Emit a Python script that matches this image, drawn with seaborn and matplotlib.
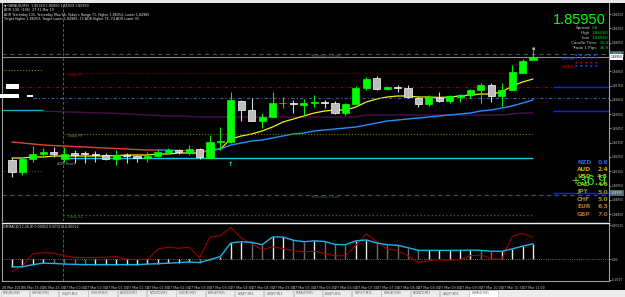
import matplotlib
matplotlib.use("Agg")
import matplotlib.pyplot as plt
import matplotlib.transforms as mtransforms
from matplotlib.patches import Rectangle
import seaborn as sns
import numpy as np
import pandas as pd

# GBPAUD M15, 26-27 Mar 2019
opens = [1.85229, 1.85145, 1.85236, 1.85271, 1.85285, 1.85236, 1.85278, 1.85278, 1.85271, 1.85264,
         1.85236, 1.85264, 1.85257, 1.85243, 1.85257, 1.85285, 1.85299, 1.85278, 1.85306, 1.85243,
         1.85358, 1.85355, 1.85642, 1.85579, 1.85502, 1.85530, 1.85625, 1.85628, 1.85614, 1.85628,
         1.85635, 1.85628, 1.85558, 1.85621, 1.85733, 1.85803, 1.85726, 1.85740, 1.85733, 1.85663,
         1.85621, 1.85663, 1.85642, 1.85670, 1.85684, 1.85719, 1.85754, 1.85677, 1.85719, 1.85838,
         1.85929]
highs = [1.85243, 1.85250, 1.85327, 1.85313, 1.85320, 1.85320, 1.85299, 1.85292, 1.85292, 1.85278,
         1.85299, 1.85278, 1.85264, 1.85285, 1.85299, 1.85313, 1.85306, 1.85334, 1.85313, 1.85404,
         1.85460, 1.85705, 1.85649, 1.85663, 1.85558, 1.85705, 1.85670, 1.85649, 1.85656, 1.85684,
         1.85649, 1.85642, 1.85628, 1.85747, 1.85810, 1.85817, 1.85747, 1.85754, 1.85754, 1.85670,
         1.85684, 1.85705, 1.85684, 1.85691, 1.85726, 1.85768, 1.85768, 1.85768, 1.85894, 1.85936,
         1.86000]
lows = [1.85110, 1.85124, 1.85215, 1.85250, 1.85250, 1.85215, 1.85208, 1.85208, 1.85215, 1.85229,
        1.85194, 1.85208, 1.85215, 1.85215, 1.85250, 1.85278, 1.85271, 1.85264, 1.85236, 1.85243,
        1.85299, 1.85348, 1.85502, 1.85502, 1.85453, 1.85530, 1.85593, 1.85558, 1.85544, 1.85600,
        1.85593, 1.85551, 1.85544, 1.85621, 1.85719, 1.85719, 1.85719, 1.85705, 1.85663, 1.85600,
        1.85607, 1.85635, 1.85628, 1.85635, 1.85663, 1.85628, 1.85635, 1.85607, 1.85719, 1.85838,
        1.85929]
closes = [1.85145, 1.85236, 1.85271, 1.85285, 1.85271, 1.85271, 1.85264, 1.85271, 1.85264, 1.85236,
          1.85264, 1.85257, 1.85243, 1.85257, 1.85285, 1.85299, 1.85285, 1.85306, 1.85250, 1.85355,
          1.85362, 1.85649, 1.85579, 1.85502, 1.85530, 1.85628, 1.85628, 1.85621, 1.85628, 1.85635,
          1.85628, 1.85558, 1.85621, 1.85733, 1.85796, 1.85726, 1.85740, 1.85733, 1.85670, 1.85621,
          1.85670, 1.85642, 1.85677, 1.85684, 1.85719, 1.85754, 1.85677, 1.85719, 1.85845, 1.85922,
          1.85950]

ma_fast = [1.85243, 1.85243, 1.85250, 1.85250, 1.85257, 1.85257, 1.85257, 1.85257, 1.85257, 1.85257,
           1.85260, 1.85264, 1.85264, 1.85264, 1.85271, 1.85271, 1.85278, 1.85278, 1.85278, 1.85299,
           1.85306, 1.85376, 1.85397, 1.85411, 1.85432, 1.85460, 1.85495, 1.85516, 1.85537, 1.85558,
           1.85572, 1.85579, 1.85579, 1.85600, 1.85635, 1.85656, 1.85670, 1.85677, 1.85677, 1.85670,
           1.85670, 1.85667, 1.85670, 1.85677, 1.85684, 1.85691, 1.85691, 1.85705, 1.85747, 1.85775,
           1.85796]
ma_slow = [1.85355, 1.85348, 1.85341, 1.85334, 1.85330, 1.85327, 1.85323, 1.85320, 1.85316, 1.85313,
           1.85309, 1.85306, 1.85302, 1.85299, 1.85299, 1.85299, 1.85295, 1.85295, 1.85292, 1.85292,
           1.85306, 1.85334, 1.85348, 1.85362, 1.85369, 1.85383, 1.85397, 1.85411, 1.85418, 1.85432,
           1.85439, 1.85446, 1.85453, 1.85460, 1.85474, 1.85488, 1.85502, 1.85509, 1.85516, 1.85523,
           1.85530, 1.85537, 1.85544, 1.85551, 1.85558, 1.85572, 1.85579, 1.85593, 1.85607, 1.85628,
           1.85649]
# purple line starts at bar 3
purple_line = [1.85572, 1.85569, 1.85565, 1.85565, 1.85562, 1.85558, 1.85558, 1.85555, 1.85551, 1.85548,
               1.85544, 1.85541, 1.85537, 1.85537, 1.85534, 1.85530, 1.85530, 1.85530, 1.85530, 1.85530,
               1.85530, 1.85530, 1.85530, 1.85530, 1.85530, 1.85530, 1.85530, 1.85530, 1.85530, 1.85530,
               1.85530, 1.85544, 1.85544, 1.85544, 1.85544, 1.85544, 1.85544, 1.85544, 1.85544, 1.85544,
               1.85544, 1.85544, 1.85544, 1.85544, 1.85544, 1.85551, 1.85558, 1.85558]

macd_main = [-0.00026, -0.00025, -0.00018, -0.00013, -0.00014, -0.00016, -0.00017, -0.00018, -0.00018, -0.00018,
             -0.00018, -0.00018, -0.00018, -0.00016, -0.00015, -0.00013, -0.00011, -0.00009, -0.00011, -0.00001,
             0.00009, 0.00055, 0.00059, 0.00057, 0.00049, 0.00075, 0.00075, 0.00064, 0.00059, 0.00062,
             0.00060, 0.00050, 0.00049, 0.00062, 0.00065, 0.00055, 0.00049, 0.00047, 0.00039, 0.00030,
             0.00030, 0.00030, 0.00030, 0.00030, 0.00031, 0.00030, 0.00027, 0.00027, 0.00035, 0.00044,
             0.00052]
macd_signal = [-0.00041, -0.00023, 0.00019, 0.00022, 0.00021, 0.00012, 0.00006, 0.00006, 0.00006, 0.00007,
               0.00009, 0.00001, -0.00001, 0.00000, 0.00034, 0.00041, 0.00037, 0.00041, 0.00005, 0.00075,
               0.00079, 0.00107, 0.00072, 0.00052, 0.00032, 0.00042, 0.00036, 0.00029, 0.00025, 0.00027,
               0.00019, 0.00012, 0.00012, 0.00047, 0.00085, 0.00059, 0.00035, 0.00029, 0.00012, -0.00011,
               -0.00005, -0.00001, -0.00003, -0.00001, 0.00012, 0.00015, 0.00002, 0.00000, 0.00077, 0.00087,
               0.00074]

# price levels
yest_high = 1.85971
bid = 1.85950
daily_r1 = 1.85838
daily_pp = 1.85411
daily_s1 = 1.84844
yest_low = 1.84984
adr_start = 1.85243
red_level = 1.85740
blue_dash_level = 1.85663
blue_right_levels = [1.85740, 1.85572, 1.84998]
left_olive = 1.85859
left_cyan = 1.85579
left_green = 1.85152

price_ticks = [1.8625, 1.8615, 1.8605, 1.8595, 1.8585, 1.8575, 1.8565, 1.8555,
               1.8545, 1.8535, 1.8525, 1.8515, 1.8505, 1.8495, 1.8485]

time_labels = ["26 Mar 2019", "26 Mar 23:00", "26 Mar 23:30", "27 Mar 00:00", "27 Mar 00:30",
               "27 Mar 01:00", "27 Mar 01:30", "27 Mar 02:00", "27 Mar 02:30", "27 Mar 03:00",
               "27 Mar 03:30", "27 Mar 04:00", "27 Mar 04:30", "27 Mar 05:00", "27 Mar 05:30",
               "27 Mar 06:00", "27 Mar 06:30", "27 Mar 07:00", "27 Mar 07:30", "27 Mar 08:00",
               "27 Mar 08:30", "27 Mar 09:00", "27 Mar 09:30", "27 Mar 10:00", "27 Mar 10:30",
               "27 Mar 11:00"]

info_labels = ["Spread", "High", "Low", "Candle Time", "Trade 1 Pips"]
info_values = ["0.6", "1.86000", "1.84960", "01:47", "36.9"]

currencies = ["NZD", "AUD", "USD", "CAD", "JPY", "CHF", "EUR", "GBP"]
strengths = [0.6, 2.4, 4.3, 4.6, 5.0, 5.0, 6.3, 7.0]
cur_colors = ["#2f62d8", "#d4a400", "#c8b400", "#b8ac20", "#8e8e3a", "#9a8a3c", "#b07a2c", "#a86a34"]

tabs = ["EURUSD,M15", "GBPUSD,M15", "USDJPY,M15", "USDCHF,M15", "AUDUSD,M15", "NZDUSD,M15",
        "USDCAD,M15", "EURGBP,M15", "EURJPY,M15", "GBPJPY,M15", "EURAUD,M15", "AUDJPY,M15",
        "GBPCHF,M15", "EURCAD,M15", "AUDNZD,M15", "CADJPY,M15", "GBPAUD,M15"]

sns.set_style("dark", {"axes.facecolor": "black", "figure.facecolor": "black"})
plt.rcParams['font.family'] = ['DejaVu Sans']

W, H = 625, 297
fig = plt.figure(figsize=(W / 100, H / 100), dpi=100, facecolor='black')


def box(l, t, r, b):
    return [l / W, 1 - b / H, (r - l) / W, (b - t) / H]


ax = fig.add_axes(box(2, 3, 609, 221))
pane = fig.add_axes(box(2, 223, 609, 281))
ov = fig.add_axes([0, 0, 1, 1], zorder=5)
ov.set_xlim(0, W)
ov.set_ylim(H, 0)
ov.axis('off')

STEP = 10.42
xlim = ((2 - 12) / STEP, (609 - 12) / STEP)
K = 0.00007
for a in (ax, pane):
    a.set_facecolor('black')
    a.grid(False)
    a.set_xlim(*xlim)
ax.set_ylim(1.8595 - (221 - 57) * K, 1.8595 + (57 - 3) * K)
pane.set_ylim(-0.00073, 0.00122)

# candles
df = pd.DataFrame({'i': np.arange(len(opens)), 'o': opens, 'h': highs, 'l': lows, 'c': closes})
df['up'] = df.c >= df.o
ax.vlines(df.i, df.l, df.h, colors=np.where(df.up, '#00ee00', '#d8d8d8'), lw=0.8, zorder=3)
bottoms = df[['o', 'c']].min(axis=1)
heights = (df.c - df.o).abs().clip(lower=0.000025)
ax.bar(df.i, heights, bottom=bottoms, width=0.68,
       color=np.where(df.up, '#00ff00', '#bdbdbd'),
       edgecolor=np.where(df.up, '#00ff00', '#ffffff'), linewidth=0.5, zorder=4)

# moving averages
sns.lineplot(x=df.i, y=ma_fast, ax=ax, color='#f2f200', lw=0.9, zorder=2, legend=False)
for s, e, col in [(0, 14, '#e0452b'), (14, 16, '#1e90ff'), (16, 19, '#b23020'), (19, 50, '#1e90ff')]:
    sns.lineplot(x=df.i[s:e + 1], y=ma_slow[s:e + 1], ax=ax, color=col, lw=1.0, zorder=2, legend=False)
sns.lineplot(x=np.arange(3, 3 + len(purple_line)), y=purple_line, ax=ax, color='#4a0f4a', lw=1.0,
             zorder=1, legend=False)

# levels
dash = (0, (4, 3))
dashdot = (0, (3, 2, 1, 2))
ax.axhline(yest_high, color='#3a5656', lw=0.8, ls=dash, zorder=1)
ax.axhline(bid, color='#8c8c8c', lw=0.8, zorder=1)
ax.axhline(yest_low, color='#3a5656', lw=0.8, ls=dash, zorder=1)
ax.hlines(left_olive, -1, 3, color='#8a8a00', lw=0.8, ls=':')
ax.hlines(left_cyan, -1, 3, color='#1aa8d8', lw=1.0)
ax.hlines(left_green, -1, 3, color='#1e5a1e', lw=0.8, ls=':')
ax.hlines(daily_r1, 4.9, 50, color='#7a0000', lw=0.8, ls=':')
ax.hlines(daily_pp, 4.9, 50, color='#7a7a00', lw=0.8, ls=':')
ax.hlines(daily_s1, 4.9, 50, color='#1e6a1e', lw=1.0, ls=':')
ax.hlines(adr_start, 4.9, 50, color='#10c8e0', lw=1.0, zorder=1)
ax.hlines(red_level, xlim[0], 51.9, color='#8b0000', lw=0.8, ls=dashdot)
ax.hlines(blue_dash_level, 2.0, xlim[1], color='#3a5bb0', lw=0.8, ls=dashdot)
ax.hlines(blue_right_levels, 51.9, xlim[1], color='#1a1aff', lw=1.0)
ax.axvline(4.9, color='#5a5a5a', lw=0.7, ls=(0, (3, 2)))
pane.axvline(4.9, color='#5a5a5a', lw=0.7, ls=(0, (3, 2)))

# level texts
ax.text(5.4, daily_r1 - 0.00002, "Daily R1", color='#c00000', fontsize=2.6, va='top')
ax.text(5.4, daily_pp - 0.00002, "Daily PP", color='#8a8a60', fontsize=2.6, va='top')
ax.text(5.4, daily_s1 - 0.00001, "Daily S1", color='#2a8a2a', fontsize=2.6, va='top')
ax.text(4.3, adr_start - 0.00045, "ADR Start", color='#8a9aa8', fontsize=2.6, va='center')
ax.text(30, yest_high - 0.00001, "Yesterday's High", color='#4a6060', fontsize=2.6, va='top', ha='center')
ax.text(30, yest_low - 0.00001, "Yesterday's Low", color='#4a6060', fontsize=2.6, va='top', ha='center')
ax.text(21, adr_start - 0.00049, "\u2191", color='#00e5ff', fontsize=4.5, ha='center', va='center',
        fontweight='bold')
ax.text(45.7, blue_dash_level, "\u2022", color='#a0e0a0', fontsize=3, ha='center', va='center')
ax.text(50, 1.86012, "\u25aa", color='#c0c0c0', fontsize=3.5, ha='center', va='center')

# right price axis
ax.yaxis.tick_right()
ax.set_yticks(price_ticks)
ax.set_yticklabels(["%.5f" % p for p in price_ticks])
ax.tick_params(axis='y', colors='#c8c8c8', labelsize=2.1, length=1.2, width=0.5, pad=0.8)
ax.tick_params(axis='x', bottom=False, labelbottom=False)
ax.set_xlabel('')
ax.set_ylabel('')
for side, sp in ax.spines.items():
    sp.set_visible(side in ('left', 'right'))
    sp.set_color('#a0a0a0')
    sp.set_linewidth(0.8)

tr = mtransforms.blended_transform_factory(ax.transAxes, ax.transData)
for val, fc, tc in [(yest_high, '#355555', '#e0e0e0'), (bid, '#ffffff', '#000000'),
                    (blue_right_levels[2], '#4a6a70', '#e0e0e0')]:
    ax.text(1.003, val, "%.5f" % val, transform=tr, fontsize=2.1, color=tc, va='center', ha='left',
            bbox=dict(fc=fc, ec='none', pad=0.6), clip_on=False, zorder=10)

# indicator pane
rising = np.r_[True, np.diff(macd_main) >= 0]
pane.vlines(df.i, 0, macd_main, colors=np.where(rising, '#e6e6e6', '#6e6e6e'), lw=1.0, zorder=2)
pane.axhline(0, color='#8a8a8a', lw=0.6, ls=':', zorder=1)
sns.lineplot(x=df.i, y=macd_signal, ax=pane, color='#a00000', lw=0.8, zorder=3, legend=False)
sns.lineplot(x=df.i, y=macd_main, ax=pane, color='#18b4ec', lw=1.0, zorder=4, legend=False)
pane.yaxis.tick_right()
pane.set_yticks([0.00115, 0.0, -0.00068])
pane.set_yticklabels(["0.00115", "0.00", "-0.0007"])
pane.tick_params(axis='y', colors='#c8c8c8', labelsize=2.1, length=1.2, width=0.5, pad=0.8)
tick_pos = [max(2 * k - 1, xlim[0]) for k in range(len(time_labels))]
pane.set_xticks(tick_pos)
pane.set_xticklabels(time_labels, ha='left', fontsize=2.3, color='#c8c8c8')
pane.tick_params(axis='x', colors='#c8c8c8', length=2, width=0.5, pad=1.5)
pane.set_xlabel('')
pane.set_ylabel('')
for side, sp in pane.spines.items():
    sp.set_visible(True)
    sp.set_color('#a0a0a0')
    sp.set_linewidth(0.8)
pane.spines['top'].set_color('#f0f0f0')
pane.spines['top'].set_linewidth(1.0)
pane.text(0.002, 0.93, "DMMACD(12,26,9) 0.00052 0.00074 -0.00022", transform=pane.transAxes,
          fontsize=2.3, color='#e0e0e0', va='center')

# header / overlay text
ov.add_patch(Rectangle((0, 0), W, 2.5, fc='#e8e8e8', ec='none'))
hdr = ["\u25bc GBPAUD,M15  1.85929 1.86000 1.85929 1.85950",
       "ADR 1.06  (106)  27 31 Mar 19",
       "ADR Yesterday 135, Yesterday Max 66, Today's Range 71, Higher 1.86053, Lower 1.84985",
       "Target Higher 1.86053, Target Lower 1.84985, 72 ADR Higher 76, 74 ADR Lower 35"]
for k, line in enumerate(hdr):
    ov.text(4, 6 + 4.4 * k, line, fontsize=2.3, color='#e8e8e8', va='center')

ov.text(606, 20, "1.85950", color='#00ff00', fontsize=10.5, ha='right', va='center',
        family=['Liberation Sans Narrow', 'Liberation Sans', 'DejaVu Sans'])
for k, (lab, val) in enumerate(zip(info_labels, info_values)):
    y = 28 + 5 * k
    lx, vx = (590, 592) if k < 3 else (597, 600)
    ov.text(lx, y, lab, fontsize=3, color='#c8c8c8', ha='right', va='center')
    ov.text(vx, y, val, fontsize=3, color='#00e000', ha='left', va='center')

ov.text(575, 55, "\u25aa  \u25aa  \u25aa  \u25aa  \u25aa", fontsize=2.5, color='#2a40ff', va='center')
ov.text(562, 59, "USDCAD", fontsize=2.3, color='#3050ff', va='center')
ov.text(575, 59, "\u25bc  \u25bc  \u25bc  \u25bc  \u25bc", fontsize=2.5, color='#2a40ff', va='center')
ov.text(575, 63, "\u25b2  \u25b2  \u25b2  \u25b2  \u25b2", fontsize=2.5, color='#c00000', va='center')
ov.text(562, 67, "GBPAUD", fontsize=2.3, color='#d00000', va='center')
ov.text(575, 67, "\u25bc  \u25bc  \u25bc  \u25bc  \u25bc", fontsize=2.5, color='#2a40ff', va='center')

for k, (cur, val, col) in enumerate(zip(currencies, strengths, cur_colors)):
    y = 162 + 7.5 * k
    ov.text(577, y, cur, fontsize=4.3, color=col, ha='left', va='center', fontweight='bold')
    ov.text(608, y, "%.1f" % val, fontsize=4.3, color=col, ha='right', va='center', fontweight='bold')
ov.text(571, 181, "+36.9", fontsize=10, color='#22ff22', ha='left', va='center',
        family=['Liberation Sans', 'DejaVu Sans'], alpha=0.9)

# white object labels on left edge
for (x0, y0, x1, y1) in [(6, 84, 19, 89), (0, 94, 19, 98), (27, 95, 33, 97)]:
    ov.add_patch(Rectangle((x0, y0), x1 - x0, y1 - y0, fc='white', ec='none'))

# tab bar
ov.add_patch(Rectangle((0, 289.5), W, 8, fc='#ececec', ec='none'))
for k, name in enumerate(tabs):
    x = 29.3 * k
    fc = '#ffffff' if k == len(tabs) - 1 else '#ececec'
    ov.add_patch(Rectangle((x + 0.5, 290), 28.5, 7, fc=fc, ec='#b8b8b8', lw=0.4))
    ov.text(x + 3, 293.5, name, fontsize=2.0, color='#606060', va='center')

fig.savefig("out.png", dpi=100, facecolor='black')
